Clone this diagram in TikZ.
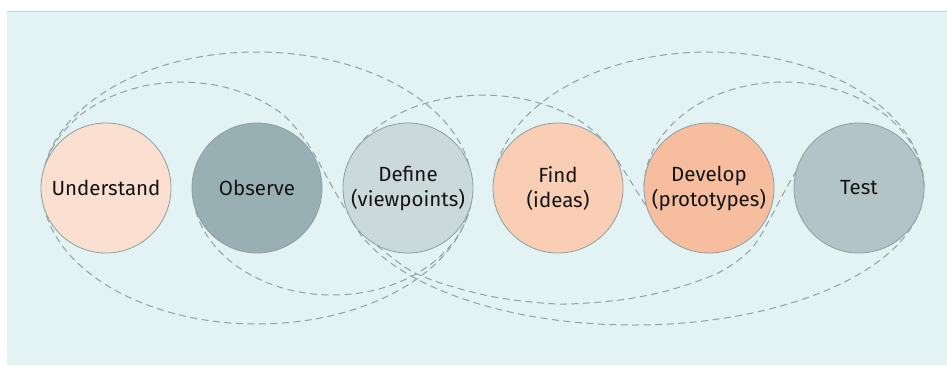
\documentclass[tikz,border=0pt]{standalone}
\usepackage{fontspec}
\setmainfont{Fira Sans}
\usetikzlibrary{calc,backgrounds}
\definecolor{bgfill}{HTML}{E3F2F2}
\definecolor{bgrule}{HTML}{B4D8DD}
\definecolor{ringedge}{HTML}{8C9FA2}
\definecolor{loopgray}{HTML}{8FA2A5}
\definecolor{undfill}{HTML}{FBE0D1}
\definecolor{obsfill}{HTML}{98AFB3}
\definecolor{deffill}{HTML}{CCD9DA}
\definecolor{findfill}{HTML}{F9CEB4}
\definecolor{devfill}{HTML}{F6BE9F}
\definecolor{testfill}{HTML}{B2C4C7}
\begin{document}
\begin{tikzpicture}[x=1pt,y=1pt,
  stage/.style={circle, draw=ringedge, line width=0.8pt, minimum size=130pt,
    inner sep=0pt, align=center, text=black!92,
    font=\fontsize{20.5pt}{25pt}\selectfont},
  loopline/.style={draw=loopgray, line width=1pt, dash pattern=on 7pt off 4.5pt},
]
\useasboundingbox (0,0) rectangle (947,-365);

% the six stages
\node[stage, fill=undfill]  (und)  at (106,-188) {Understand};
\node[stage, fill=obsfill]  (obs)  at (257,-188) {Observe};
\node[stage, fill=deffill]  (def)  at (408,-188) {Define\\(viewpoints)};
\node[stage, fill=findfill] (find) at (558,-188) {Find\\(ideas)};
\node[stage, fill=devfill]  (dev)  at (709,-188) {Develop\\(prototypes)};
\node[stage, fill=testfill] (test) at (859,-188) {Test};

\begin{pgfonlayer}{background}
  % panel
  \fill[bgfill] (7,-11) rectangle (947,-365);
  \draw[bgrule, line width=1pt] (7,-11) -- (947,-11);

  % loop around Understand .. Define
  \draw[loopline] (obs) ellipse[x radius=215pt, y radius=136pt];

  % arc over Understand/Observe, crossing down under Define .. Develop into Test
  \draw[loopline] plot[smooth] coordinates {
    (43,-195) (46.8,-160.6) (60.8,-135) (83,-113) (112,-96.2) (145.7,-85.6)
    (182,-82) (218.2,-85.6) (252,-96.2) (281,-113) (300,-133) (313,-152)
    (323,-170) (334,-190) (346,-210) (362,-232) (385,-252) (413,-272)
    (450,-286) (500,-298) (560,-304) (620,-300) (670,-290) (720,-272)
    (752,-248) (772,-215) (788,-185) (805,-157)};

  % lower loop from Define to Test
  \draw[loopline] ($(find)!0.5!(dev)+(-290pt,0)$)
    arc[start angle=180, end angle=360, x radius=290pt, y radius=137pt];

  % arc over Define/Find, crossing down into Develop
  \draw[loopline] plot[smooth] coordinates {
    (344,-192) (347.8,-163.9) (361.8,-141.5) (384,-122.2) (413,-107.5)
    (446.7,-98.2) (483,-95) (519.2,-98.2) (553,-107.5) (582,-122.2)
    (603,-140) (616,-158) (628,-177) (641,-198) (654,-218)};

  % lower arc under Observe/Define
  \draw[loopline] ($(obs)!0.5!(def)+(-140pt,0)$)
    arc[start angle=180, end angle=360, x radius=140pt, y radius=107pt];

  % upper arcs over Find .. Test and Develop .. Test
  \draw[loopline] ($(dev)+(-215pt,0)$)
    arc[start angle=180, end angle=0, x radius=215pt, y radius=136pt];
  \draw[loopline] ($(dev)!0.5!(test)+(-140pt,0)$)
    arc[start angle=180, end angle=0, x radius=140pt, y radius=106pt];
\end{pgfonlayer}
\end{tikzpicture}
\end{document}
